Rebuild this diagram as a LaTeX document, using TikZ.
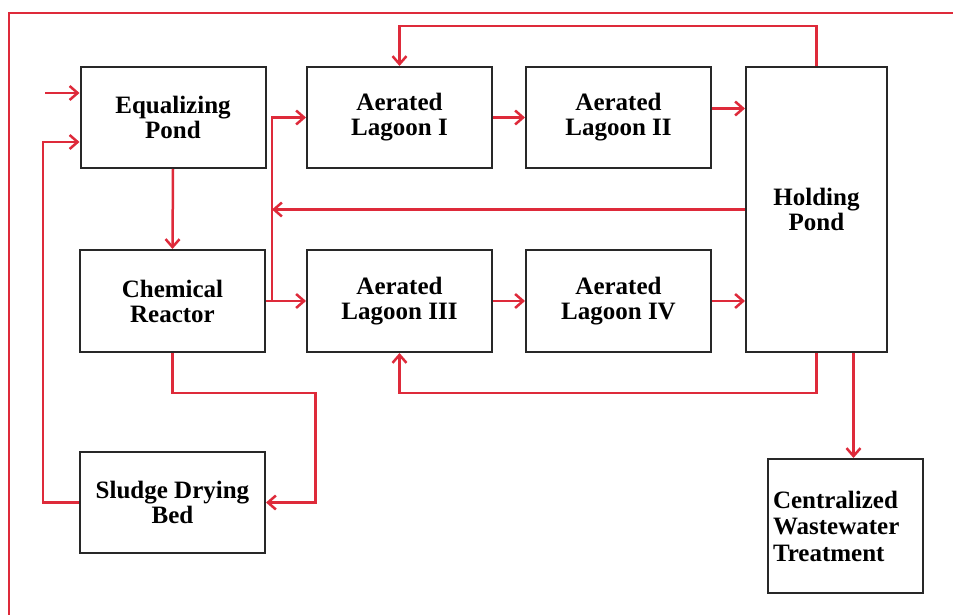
\documentclass[tikz,border=0pt]{standalone}
\usepackage{fontspec}
\setmainfont{Liberation Serif}
\usepackage{xcolor}
\usetikzlibrary{positioning,arrows.meta}
\definecolor{flowred}{RGB}{222,42,58}
\definecolor{boxline}{RGB}{40,40,40}

\begin{document}
\begin{tikzpicture}[x=1pt,y=-1pt,
  box/.style={draw=boxline,line width=2pt,inner sep=0pt,align=center,minimum width=185pt,minimum height=101pt,font=\bfseries\fontsize{25}{25}\selectfont},
  flow/.style={draw=flowred,line width=2.5pt,-{Straight Barb[length=8pt,width=14pt,line width=2.5pt]}},
  pipe/.style={draw=flowred,line width=2.5pt}]
\useasboundingbox (0,0) rectangle (953,615);
\draw[flowred,line width=1.5pt] (9,615)--(9,13)--(953,13);
\node[box] (eq) at (173,117.5) {Equalizing\\Pond};
\node[box] (lagI) at (399.5,117.5) {Aerated\\Lagoon I};
\node[box] (lagII) at (618.5,117.5) {Aerated\\Lagoon II};
\node[box,minimum width=141pt,minimum height=285pt] (hold) at (816.5,209.5) {Holding\\Pond};
\node[box,minimum height=102pt] (chem) at (172.5,301) {Chemical\\Reactor};
\node[box,minimum height=102pt] (lagIII) at (399.5,301) {Aerated\\Lagoon III};
\node[box,minimum height=102pt] (lagIV) at (618.5,301) {Aerated\\Lagoon IV};
\node[box] (sludge) at (172.5,502.5) {Sludge Drying\\Bed};
\node[box,align=left,text width=145pt,inner xsep=5pt,minimum width=155pt,minimum height=134pt,font=\bfseries\fontsize{25}{26.5}\selectfont] (cwt) at (845.5,526) {Centralized\\Wastewater\\Treatment};
% inflow and sludge return
\coordinate (in) at (45,93);
\draw[flow] (in) -- (in -| eq.west);
\draw[flow] (sludge.west) -- ++(-36,0) |- ([yshift=-24.5pt]eq.west);
\draw[flow] (eq.south) -- (chem.north);
% chemical reactor to both lagoon trains
\coordinate (split) at (272,301);
\draw[flow] (chem.east) -- (lagIII.west);
\draw[flow] (split) |- (lagI.west);
\draw[flow] (hold.west) -- (hold.west -| split);
\draw[flow] (lagI.east) -- (lagII.west);
\coordinate (o2) at ([yshift=9pt]lagII.east);
\draw[flow] (o2) -- (o2 -| hold.west);
\draw[flow] (lagIII.east) -- (lagIV.west);
\draw[flow] (lagIV.east) -- (lagIV.east -| hold.west);
% recycle from holding pond
\draw[flow] (hold.north) -- ++(0,-40) -| (lagI.north);
\draw[flow] (hold.south) -- ++(0,40) -| (lagIII.south);
\coordinate (c1) at ([xshift=8pt]cwt.north);
\draw[flow] (c1 |- hold.south) -- (c1);
\draw[flow] (chem.south) |- ++(143,40) |- (sludge.east);
\end{tikzpicture}
\end{document}
